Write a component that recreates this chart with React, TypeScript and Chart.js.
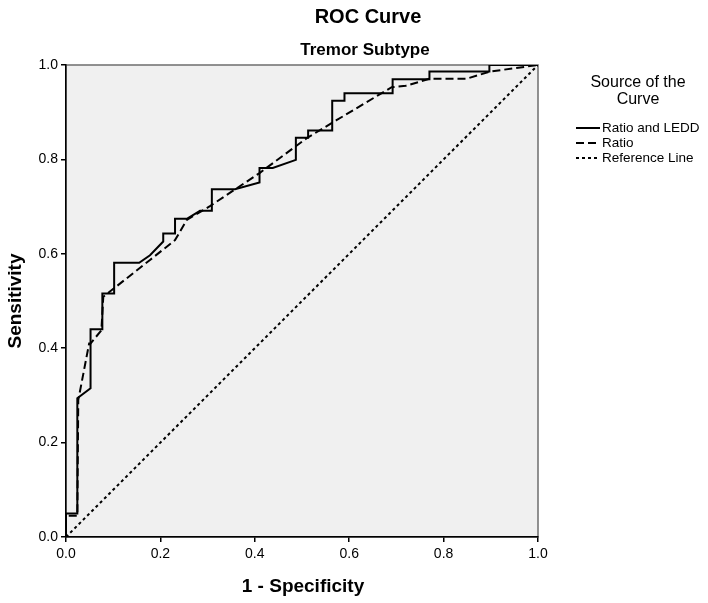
import React, { useEffect, useRef } from "react";
import { Chart, registerables } from "chart.js";

Chart.register(...registerables);

// Ratio and LEDD (solid)
const ratioLeddFpr = [0, 0, 0.024, 0.024, 0.052, 0.052, 0.077, 0.077, 0.102, 0.102, 0.155, 0.178, 0.206, 0.206, 0.231, 0.231, 0.256, 0.284, 0.309, 0.309, 0.358, 0.41, 0.41, 0.438, 0.487, 0.487, 0.513, 0.513, 0.564, 0.564, 0.59, 0.59, 0.692, 0.692, 0.77, 0.77, 0.897, 0.897, 1];
const ratioLeddTpr = [0, 0.05, 0.05, 0.294, 0.315, 0.44, 0.44, 0.516, 0.516, 0.581, 0.581, 0.597, 0.626, 0.643, 0.643, 0.674, 0.674, 0.691, 0.691, 0.737, 0.737, 0.751, 0.782, 0.782, 0.799, 0.846, 0.846, 0.861, 0.861, 0.924, 0.924, 0.94, 0.94, 0.97, 0.97, 0.986, 0.986, 1, 1];

// Ratio (dashed)
const ratioFpr = [0, 0, 0.024, 0.026, 0.049, 0.052, 0.075, 0.079, 0.178, 0.231, 0.256, 0.305, 0.41, 0.51, 0.573, 0.69, 0.72, 0.771, 0.849, 0.898, 1];
const ratioTpr = [0, 0.045, 0.045, 0.29, 0.41, 0.41, 0.438, 0.509, 0.587, 0.629, 0.672, 0.701, 0.771, 0.845, 0.883, 0.953, 0.956, 0.971, 0.971, 0.986, 1];

// Reference line (dotted)
const refFpr = [0, 1];
const refTpr = [0, 1];

const tickValues = [0, 0.2, 0.4, 0.6, 0.8, 1.0];

const chartTitle = "ROC Curve";
const chartSubtitle = "Tremor Subtype";
const xTitle = "1 - Specificity";
const yTitle = "Sensitivity";
const legendTitle = ["Source of the", "Curve"];
const seriesNames = ["Ratio and LEDD", "Ratio", "Reference Line"];

const FONT = '"Liberation Sans", Arial, sans-serif';

function pts(xs: number[], ys: number[]) {
  return xs.map((x, i) => ({ x, y: ys[i] }));
}

export default function App() {
  const ref = useRef<HTMLCanvasElement | null>(null);

  useEffect(() => {
    document.body.style.margin = "0";
    const canvas = ref.current!;
    const dashes = [[], [8, 4], [3, 3]];

    const decor = {
      id: "decor",
      beforeDraw(chart: any) {
        const { ctx, chartArea: ca } = chart;
        ctx.save();
        ctx.fillStyle = "#f0f0f0";
        ctx.fillRect(ca.left, ca.top, ca.right - ca.left, ca.bottom - ca.top);
        ctx.strokeStyle = "#6e6e6e";
        ctx.lineWidth = 1.5;
        ctx.strokeRect(ca.left, ca.top, ca.right - ca.left, ca.bottom - ca.top);
        ctx.restore();
      },
      afterDraw(chart: any) {
        const { ctx, chartArea: ca } = chart;
        const mid = (ca.left + ca.right) / 2;
        ctx.save();
        ctx.fillStyle = "#000";
        ctx.textBaseline = "middle";
        ctx.textAlign = "center";
        ctx.font = `bold 20px ${FONT}`;
        ctx.fillText(chartTitle, mid + 66, 17);
        ctx.font = `bold 17px ${FONT}`;
        ctx.fillText(chartSubtitle, mid + 63, 50);
        ctx.font = `bold 19px ${FONT}`;
        ctx.fillText(xTitle, mid + 1, 587);
        ctx.save();
        ctx.translate(16, (ca.top + ca.bottom) / 2);
        ctx.rotate(-Math.PI / 2);
        ctx.fillText(yTitle, 0, 0);
        ctx.restore();

        // legend
        const lx = ca.right + 100;
        ctx.font = `16px ${FONT}`;
        ctx.fillText(legendTitle[0], lx, 83);
        ctx.fillText(legendTitle[1], lx, 100);
        ctx.textAlign = "left";
        ctx.font = `13.5px ${FONT}`;
        const ys = [128, 143, 158];
        seriesNames.forEach((name, i) => {
          ctx.strokeStyle = "#000";
          ctx.lineWidth = 2;
          ctx.setLineDash(dashes[i]);
          ctx.beginPath();
          ctx.moveTo(ca.right + 38, ys[i]);
          ctx.lineTo(ca.right + 62, ys[i]);
          ctx.stroke();
          ctx.setLineDash([]);
          ctx.fillText(name, ca.right + 64, ys[i]);
        });
        ctx.restore();
      },
    };

    const chart = new Chart(canvas, {
      type: "scatter",
      data: {
        datasets: [
          {
            label: seriesNames[2],
            data: pts(refFpr, refTpr),
            showLine: true,
            borderColor: "#000",
            borderWidth: 2,
            borderDash: dashes[2],
            pointRadius: 0,
          },
          {
            label: seriesNames[1],
            data: pts(ratioFpr, ratioTpr),
            showLine: true,
            borderColor: "#000",
            borderWidth: 2,
            borderDash: dashes[1],
            pointRadius: 0,
          },
          {
            label: seriesNames[0],
            data: pts(ratioLeddFpr, ratioLeddTpr),
            showLine: true,
            borderColor: "#000",
            borderWidth: 2,
            pointRadius: 0,
          },
        ],
      },
      options: {
        animation: false,
        responsive: false,
        layout: { padding: { top: 65, right: 170, left: 0, bottom: 0 } },
        plugins: { legend: { display: false }, tooltip: { enabled: false } },
        scales: {
          x: {
            type: "linear",
            min: 0,
            max: 1,
            afterFit: (s: any) => {
              s.height = 66;
            },
            afterBuildTicks: (s: any) => {
              s.ticks = tickValues.map((v) => ({ value: v }));
            },
            ticks: {
              color: "#000",
              font: { family: FONT, size: 14 },
              padding: 4,
              callback: (v: any) => Number(v).toFixed(1),
            },
            grid: { drawOnChartArea: false, drawTicks: true, tickLength: 5, color: "#000", lineWidth: 1.5 },
            border: { display: true, color: "#000", width: 1.5 },
          },
          y: {
            type: "linear",
            min: 0,
            max: 1,
            afterFit: (s: any) => {
              s.width = 66;
            },
            afterBuildTicks: (s: any) => {
              s.ticks = tickValues.map((v) => ({ value: v }));
            },
            ticks: {
              color: "#000",
              font: { family: FONT, size: 14 },
              padding: 3,
              callback: (v: any) => Number(v).toFixed(1),
            },
            grid: { drawOnChartArea: false, drawTicks: true, tickLength: 5, color: "#000", lineWidth: 1.5 },
            border: { display: true, color: "#000", width: 1.5 },
          },
        },
      },
      plugins: [decor],
    });
    return () => chart.destroy();
  }, []);

  return (
    <div style={{ width: 708, height: 603, background: "#fff" }}>
      <canvas ref={ref} width={708} height={603} />
    </div>
  );
}
